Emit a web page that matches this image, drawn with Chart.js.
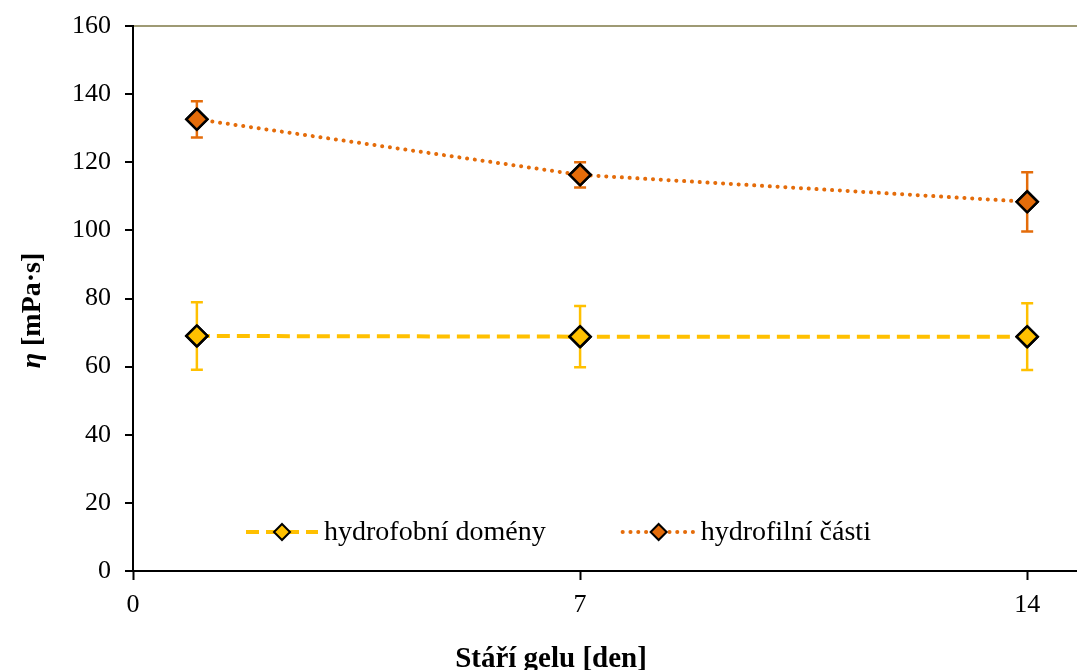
<!DOCTYPE html>
<html lang="cs">
<head>
  <meta charset="utf-8">
  <title>Viskozita gelu</title>
  <script src="https://cdn.jsdelivr.net/npm/chart.js"></script>
  <style>
    * { box-sizing:border-box; margin:0; padding:0 }
    body { background:#fff; width:1077px; height:670px; overflow:hidden }
    #wrap { position:relative; width:1077px; height:670px }
  </style>
</head>
<body>
  <div id="wrap"><canvas id="c" width="1077" height="670"></canvas></div>

  <script>
  // ===== DATA =====
  const days        = [1, 7, 14];
  const xTicks      = [0, 7, 14];
  const hydrofob    = [69.0, 68.8, 68.8];
  const hydrofobErr = [9.9, 9.0, 9.8];
  const hydrofil    = [132.6, 116.3, 108.4];
  const hydrofilErr = [5.3, 3.7, 8.7];
  const labels      = ['hydrofobní domény', 'hydrofilní části'];

  const YELLOW = '#FFC000';
  const ORANGE = '#E46C0A';
  const FONT   = '"Liberation Serif", "Times New Roman", serif';

  const pts = (ys) => days.map((d, i) => ({ x: d, y: ys[i] }));

  // ===== error bars + titles + legend =====
  const extras = {
    id: 'extras',
    afterDatasetsDraw(chart) {
      const { ctx, scales: { x, y } } = chart;
      const errs = [hydrofobErr, hydrofilErr];
      ctx.save();
      chart.data.datasets.forEach((ds, di) => {
        ctx.strokeStyle = ds.borderColor;
        ctx.lineWidth = 2.5;
        ds.data.forEach((p, i) => {
          const px = x.getPixelForValue(p.x);
          const top = y.getPixelForValue(p.y + errs[di][i]);
          const bot = y.getPixelForValue(p.y - errs[di][i]);
          ctx.beginPath();
          ctx.moveTo(px, top); ctx.lineTo(px, bot);
          ctx.moveTo(px - 6, top); ctx.lineTo(px + 6, top);
          ctx.moveTo(px - 6, bot); ctx.lineTo(px + 6, bot);
          ctx.stroke();
        });
      });
      ctx.restore();
      // redraw points on top of the bars
      chart.data.datasets.forEach((ds, di) => {
        chart.getDatasetMeta(di).data.forEach(el => el.draw(ctx, chart.chartArea));
      });
    },
    afterDraw(chart) {
      const { ctx, chartArea: a } = chart;
      ctx.save();
      // x title
      ctx.fillStyle = '#000';
      ctx.font = 'bold 29px ' + FONT;
      ctx.textAlign = 'center';
      ctx.textBaseline = 'alphabetic';
      ctx.fillText('Stáří gelu [den]', 551, 667);
      // y title (η italic)
      ctx.translate(40, a.top + (a.bottom - a.top) / 2 + 12);
      ctx.rotate(-Math.PI / 2);
      const p1 = 'η', p2 = ' [mPa·s]';
      ctx.font = 'italic bold 28px ' + FONT;
      const w1 = ctx.measureText(p1).width;
      ctx.font = 'bold 28px ' + FONT;
      const w2 = ctx.measureText(p2).width;
      ctx.textAlign = 'left';
      let sx = -(w1 + w2) / 2;
      ctx.font = 'italic bold 28px ' + FONT;
      ctx.fillText(p1, sx, 0);
      ctx.font = 'bold 28px ' + FONT;
      ctx.fillText(p2, sx + w1, 0);
      ctx.restore();

      // legend
      ctx.save();
      ctx.font = '28px ' + FONT;
      ctx.textBaseline = 'middle';
      ctx.fillStyle = '#000';
      const ly = 532;
      let lx = 246;
      chart.data.datasets.forEach((ds, di) => {
        ctx.save();
        ctx.strokeStyle = ds.borderColor;
        ctx.lineWidth = ds.borderWidth;
        ctx.lineCap = ds.borderCapStyle || 'butt';
        ctx.setLineDash(ds.borderDash);
        ctx.beginPath();
        ctx.moveTo(lx, ly); ctx.lineTo(lx + 72, ly);
        ctx.stroke();
        ctx.setLineDash([]);
        // diamond
        const cx = lx + 36, r = 8;
        ctx.fillStyle = ds.pointBackgroundColor;
        ctx.strokeStyle = '#000';
        ctx.lineWidth = 2;
        ctx.beginPath();
        ctx.moveTo(cx, ly - r); ctx.lineTo(cx + r, ly);
        ctx.lineTo(cx, ly + r); ctx.lineTo(cx - r, ly);
        ctx.closePath();
        ctx.fill(); ctx.stroke();
        ctx.restore();
        ctx.fillText(ds.label, lx + 78, ly + 1);
        lx += 78 + ctx.measureText(ds.label).width + 77;
      });
      ctx.restore();
    }
  };

  new Chart(document.getElementById('c'), {
    type: 'line',
    data: {
      datasets: [
        {
          label: labels[0], data: pts(hydrofob),
          borderColor: YELLOW, borderWidth: 4, borderDash: [13, 7],
          pointStyle: 'rectRot', pointRadius: 10.5, pointBackgroundColor: YELLOW,
          pointBorderColor: '#000', pointBorderWidth: 2.5, tension: 0
        },
        {
          label: labels[1], data: pts(hydrofil),
          borderColor: ORANGE, borderWidth: 4, borderDash: [0.1, 7.7], borderCapStyle: 'round',
          pointStyle: 'rectRot', pointRadius: 10.5, pointBackgroundColor: ORANGE,
          pointBorderColor: '#000', pointBorderWidth: 2.5, tension: 0
        }
      ]
    },
    options: {
      responsive: false, animation: false,
      layout: { autoPadding: false, padding: { top: 26, right: 0, left: 0, bottom: 0 } },
      plugins: { legend: { display: false }, tooltip: { enabled: false } },
      scales: {
        x: {
          type: 'linear', min: 0, max: 14.78,
          afterBuildTicks: s => { s.ticks = xTicks.map(v => ({ value: v })); },
          afterFit: s => { s.height = 99; s.paddingLeft = 0; s.paddingRight = 0; },
          border: { color: '#000', width: 2 },
          grid: { drawOnChartArea: false, tickLength: 9, tickColor: '#000', tickWidth: 2 },
          ticks: { color: '#000', font: { family: FONT, size: 26 }, padding: 10, maxRotation: 0 }
        },
        y: {
          min: 0, max: 160,
          afterFit: s => { s.width = 133; s.paddingTop = 0; s.paddingBottom = 0; },
          border: { color: '#000', width: 2 },
          grid: {
            color: c => c.tick && c.tick.value === 160 ? '#9E9A74' : 'rgba(0,0,0,0)',
            lineWidth: 2, tickLength: 8, tickColor: '#000', tickWidth: 2
          },
          ticks: { stepSize: 20, color: '#000', font: { family: FONT, size: 26 }, padding: 14 }
        }
      }
    },
    plugins: [extras]
  });
  </script>
</body>
</html>
